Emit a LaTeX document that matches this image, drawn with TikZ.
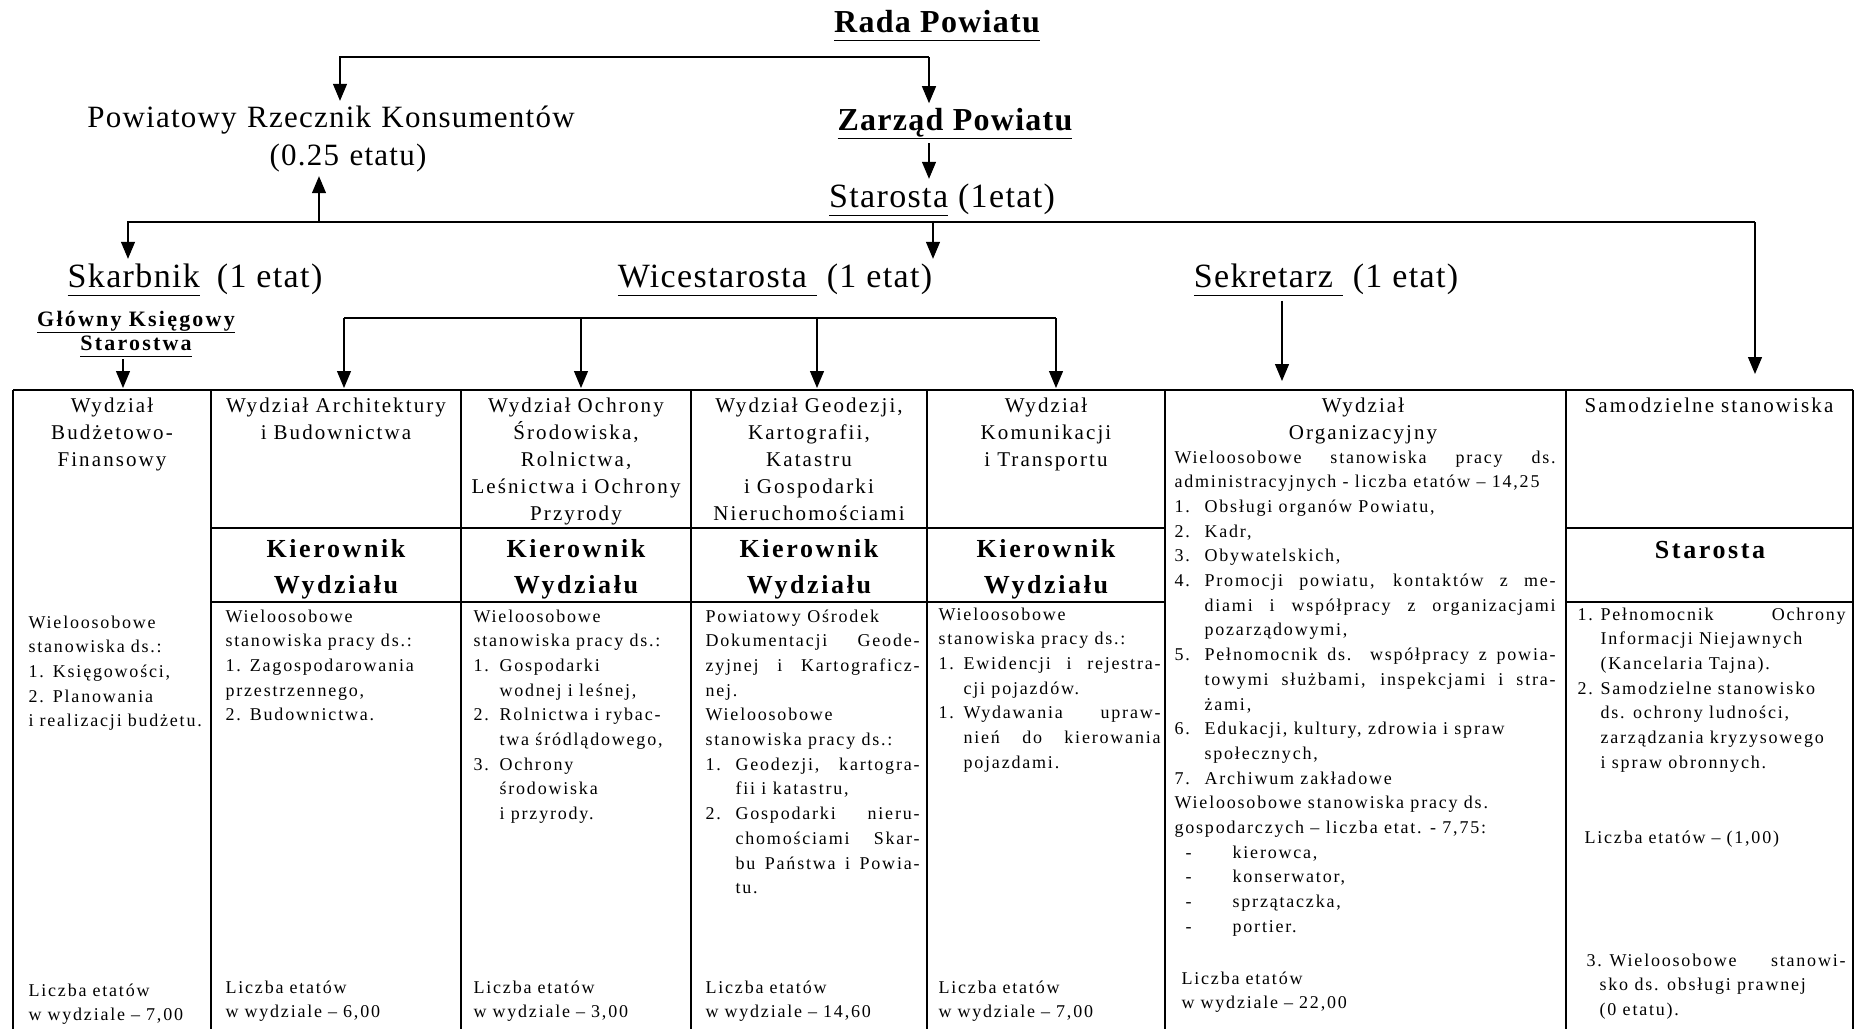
\documentclass[tikz,border=0pt]{standalone}
\usepackage{fontspec}
\setmainfont{Liberation Serif}
\newfontfamily\ttlfont[LetterSpace=4]{Liberation Serif}
\newfontfamily\boxfont[LetterSpace=10]{Liberation Serif}
\usetikzlibrary{arrows.meta}
\hyphenpenalty=10000
\exhyphenpenalty=10000
\def\undl#1{\underline{#1\vphantom{p}}}
\newcommand\itm[3][26pt]{\hangindent=#1\hangafter=1\noindent\makebox[#1][l]{#2}#3\par}
\newcommand\dsh[1]{\noindent\makebox[58pt][l]{\hspace{11pt}-}#1\par}

\begin{document}
\begin{tikzpicture}[x=1pt,y=-1pt,line width=1.2pt,>={Triangle[length=17pt,width=14pt]},
  ttl/.style={font=\ttlfont\fontsize{34}{38}\selectfont,inner sep=4pt,anchor=base},
  hd/.style={font=\boxfont\fontsize{21}{27.2}\selectfont,inner sep=0pt,anchor=base,align=center},
  kier/.style={font=\boxfont\bfseries\fontsize{26}{36}\selectfont,inner sep=0pt,anchor=base,align=center},
  txt/.style={font=\boxfont\fontsize{18}{24.7}\selectfont,inner sep=0pt,anchor=base west,align=justify}]
\useasboundingbox (0,0) rectangle (1858,1029);

\node [ttl,font=\ttlfont\bfseries\fontsize{32}{36}\selectfont] (rada) at (937,32) {\undl{Rada Powiatu}};
\node [ttl,font=\ttlfont\bfseries\fontsize{32}{36}\selectfont] (zarzad) at (955,130) {\undl{Zarząd Powiatu}};
\node [ttl,font=\ttlfont\fontsize{31}{38}\selectfont,text width=540pt,align=center] (rzecznik) at (331,127)
  {Powiatowy Rzecznik Konsumentów\\\hspace*{34pt}(0.25 etatu)};
\node [ttl] (starosta) at (942,207) {\undl{Starosta} (1etat)};
\node [ttl] (skarbnik) at (195,287) {\undl{Skarbnik}\enspace(1 etat)};
\node [ttl] (wicestarosta) at (775,287) {\undl{Wicestarosta\ }\ (1 etat)};
\node [ttl] (sekretarz) at (1326,287) {\undl{Sekretarz\ }\ (1 etat)};
\node [ttl,font=\boxfont\bfseries\fontsize{22}{24}\selectfont,text width=230pt,align=center,inner sep=2pt] (ksiegowy) at (136,326)
  {\undl{Główny Księgowy}\\\undl{Starostwa}};

\coordinate (radaL) at (340,57);
\coordinate (radaR) at (929,57);
\draw [->] (radaR) -- (radaL) -- (radaL |- rzecznik.north);
\draw [->] (radaR) -- (radaR |- zarzad.north);
\draw [->] (zarzad.south -| radaR) -- (starosta.north -| radaR);

\coordinate (linL) at (128,222);
\coordinate (linR) at (1755,222);
\coordinate (samTop) at (1755,374);
\coordinate (wx) at (933,222);
\coordinate (rx) at (319,222);
\draw [->] (linR) -- (linL) -- (linL |- skarbnik.north);
\draw [->] (linR) -- (samTop);
\draw [->] (starosta.south -| wx) -- (wicestarosta.north -| wx);
\draw [->] (rx) -- (rzecznik.south -| rx);

\coordinate (orgTop) at (1282,381);
\coordinate (budTop) at (123,388);
\draw [->] (sekretarz.south -| orgTop) -- (orgTop);
\draw [->] (ksiegowy.south -| budTop) -- (budTop);

\coordinate (brL) at (344,318);
\coordinate (brR) at (1056,318);
\draw (brL) -- (brR);
\foreach \x [count=\i] in {344,581,817,1056} {
  \coordinate (wyd\i) at (\x,388);
  \draw [->] (wyd\i |- brL) -- (wyd\i);
}

\draw (13,390) -- (1853,390);
\foreach \x in {13,211,461,691,927,1165,1566,1853}
  \draw (\x,390) -- (\x,1029);
\draw (211,528) -- (1165,528) (211,602) -- (1165,602)
  (1566,528) -- (1853,528) (1566,602) -- (1853,602);

\node [hd,text width=190pt] (budzet) at (112,412) {Wydział\\Budżetowo-\\Finansowy};
\node [hd,text width=240pt] (arch) at (336,412) {Wydział Architektury\\i Budownictwa};
\node [hd,text width=225pt] (ochrona) at (576,412) {Wydział Ochrony\\Środowiska,\\Rolnictwa,\\Leśnictwa i Ochrony\\Przyrody};
\node [hd,text width=230pt] (geodezja) at (809,412) {Wydział Geodezji,\\Kartografii,\\Katastru\\i Gospodarki\\Nieruchomościami};
\node [hd,text width=230pt] (komunik) at (1046,412) {Wydział\\Komunikacji\\i Transportu};
\node [hd,text width=390pt] (organiz) at (1363,412) {Wydział\\Organizacyjny};
\node [hd,text width=280pt] (samodz) at (1709,412) {Samodzielne stanowiska};

\foreach \n/\x in {k1/336,k2/576,k3/809,k4/1046}
  \node [kier,text width=230pt] (\n) at (\x,557) {Kierownik\\Wydziału};
\node [kier,text width=280pt] (kStar) at (1710,558) {Starosta};

\node [txt,text width=185pt,align=left] (bBud) at (28,628)
  {Wieloosobowe\\stanowiska ds.:\\1. Księgowości,\\2. Planowania\\i realizacji budżetu.};
\node [txt,text width=230pt,align=left] (bArch) at (225,622)
  {Wieloosobowe\\stanowiska pracy ds.:\\1. Zagospodarowania\\przestrzennego,\\2. Budownictwa.};
\node [txt,text width=212pt] (bOchr) at (473,622)
  {Wieloosobowe\\stanowiska pracy ds.:\par
   \itm{1.}{Gospodarki\\wodnej i leśnej,}
   \itm{2.}{Rolnictwa i rybac-\\twa śródlądowego,}
   \itm{3.}{Ochrony\\środowiska\\i przyrody.}};
\node [txt,text width=214pt] (bGeod) at (705,622)
  {Powiatowy Ośrodek\\Dokumentacji Geode-\linebreak zyjnej i Kartograficz-\linebreak nej.\par
   Wieloosobowe\\stanowiska pracy ds.:\par
   \itm[30pt]{1.}{Geodezji, kartogra-\linebreak fii i katastru,}
   \itm[30pt]{2.}{Gospodarki nieru-\linebreak chomościami Skar-\linebreak bu Państwa i Powia-\linebreak tu.}};
\node [txt,text width=222pt] (bKom) at (938,620)
  {Wieloosobowe\\stanowiska pracy ds.:\par
   \itm[25pt]{1.}{Ewidencji i rejestra-\linebreak cji pojazdów.}
   \itm[25pt]{1.}{Wydawania upraw-\linebreak nień do kierowania\linebreak pojazdami.}};
\node [txt,text width=381pt] (bOrg) at (1174,463)
  {Wieloosobowe stanowiska pracy ds.\linebreak administracyjnych - liczba etatów – 14,25\par
   \itm[30pt]{1.}{Obsługi organów Powiatu,}
   \itm[30pt]{2.}{Kadr,}
   \itm[30pt]{3.}{Obywatelskich,}
   \itm[30pt]{4.}{Promocji powiatu, kontaktów z me-\linebreak diami i współpracy z organizacjami\linebreak pozarządowymi,}
   \itm[30pt]{5.}{Pełnomocnik ds. współpracy z powia-\linebreak towymi służbami, inspekcjami i stra-\linebreak żami,}
   \itm[30pt]{6.}{Edukacji, kultury, zdrowia i spraw\\społecznych,}
   \itm[30pt]{7.}{Archiwum zakładowe}
   Wieloosobowe stanowiska pracy ds.\\gospodarczych – liczba etat. - 7,75:\par
   \dsh{kierowca,}\dsh{konserwator,}\dsh{sprzątaczka,}\dsh{portier.}};
\node [txt,text width=268pt] (bSam) at (1577,620)
  {\itm[23pt]{1.}{Pełnomocnik Ochrony\linebreak Informacji Niejawnych\\(Kancelaria Tajna).}
   \itm[23pt]{2.}{Samodzielne stanowisko\\ds. ochrony ludności,\\zarządzania kryzysowego\\i spraw obronnych.}};
\node [txt,text width=262pt,align=left] (lSam) at (1584,843) {Liczba etatów – (1,00)};
\node [txt,text width=259pt] (bPraw) at (1586,966)
  {\hangindent=13pt\hangafter=1\noindent\makebox[23pt][l]{3.}Wieloosobowe stanowi-\linebreak sko ds. obsługi prawnej\\(0 etatu).\par};

\node [txt,text width=185pt,align=left] (lBud) at (28,996) {Liczba etatów\\w wydziale – 7,00};
\node [txt,text width=230pt,align=left] (lArch) at (225,993) {Liczba etatów\\w wydziale – 6,00};
\node [txt,text width=212pt,align=left] (lOchr) at (473,993) {Liczba etatów\\w wydziale – 3,00};
\node [txt,text width=214pt,align=left] (lGeod) at (705,993) {Liczba etatów\\w wydziale – 14,60};
\node [txt,text width=222pt,align=left] (lKom) at (938,993) {Liczba etatów\\w wydziale – 7,00};
\node [txt,text width=381pt,align=left] (lOrg) at (1181,984) {Liczba etatów\\w wydziale – 22,00};
\end{tikzpicture}
\end{document}
